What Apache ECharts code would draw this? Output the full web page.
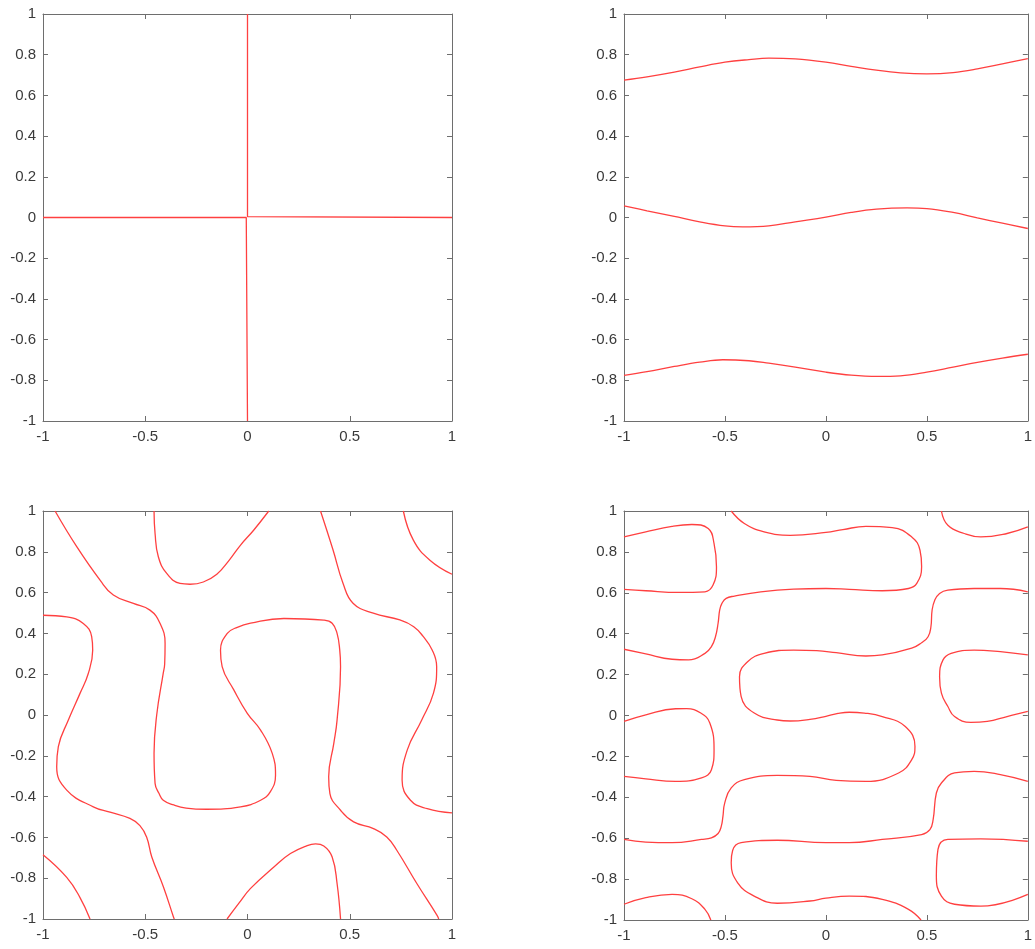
<!DOCTYPE html>
<html>
<head>
<meta charset="utf-8">
<script src="https://cdn.jsdelivr.net/npm/echarts@6/dist/echarts.min.js"></script>
<style>
  html, body { margin: 0; padding: 0; background: #fff; }
  #chart { width: 1035px; height: 949px; }
</style>
</head>
<body>
<div id="chart"></div>
<script>
// tick values shared by all four subplots
const xTicks = [-1, -0.5, 0, 0.5, 1];
const yTicks = [-1, -0.8, -0.6, -0.4, -0.2, 0, 0.2, 0.4, 0.6, 0.8, 1];

// subplot 1 (top left): the two axes lines, with the small kink at the origin
const p1UpperRight = [[0, 1], [0, 0.004], [0.006, 0], [1, 0]];
const p1LowerLeft = [[-1, 0], [-0.006, 0], [0, -0.004], [0, -1]];

// subplot 2 (top right): three wavy lines
const p2Top = [[-1, 0.675], [-0.886, 0.691], [-0.751, 0.714], [-0.625, 0.74], [-0.5, 0.763], [-0.381, 0.776],
  [-0.283, 0.783], [-0.152, 0.779], [0, 0.763], [0.125, 0.743], [0.25, 0.724], [0.369, 0.711], [0.5, 0.706],
  [0.63, 0.712], [0.75, 0.73], [0.874, 0.755], [1, 0.781]];
const p2Mid = [[-1, 0.057], [-0.886, 0.033], [-0.751, 0.005], [-0.625, -0.021], [-0.5, -0.041], [-0.413, -0.046],
  [-0.283, -0.041], [-0.152, -0.021], [0, 0.002], [0.125, 0.025], [0.25, 0.041], [0.402, 0.047], [0.5, 0.044],
  [0.63, 0.025], [0.75, -0.002], [0.874, -0.028], [1, -0.054]];
const p2Bot = [[-1, -0.776], [-0.886, -0.757], [-0.751, -0.732], [-0.625, -0.711], [-0.511, -0.699], [-0.381, -0.704],
  [-0.283, -0.716], [-0.152, -0.735], [0, -0.76], [0.125, -0.775], [0.255, -0.781], [0.369, -0.778], [0.5, -0.76],
  [0.63, -0.735], [0.75, -0.712], [0.874, -0.691], [1, -0.672]];

// subplot 3 (bottom left)
const p3Long = [[-0.941, 1], [-0.835, 0.825], [-0.721, 0.661], [-0.656, 0.588], [-0.558, 0.547], [-0.477, 0.514],
  [-0.428, 0.45], [-0.403, 0.352], [-0.405, 0.25], [-0.412, 0.205], [-0.444, 0.0], [-0.457, -0.188], [-0.452, -0.335],
  [-0.433, -0.384], [-0.412, -0.418], [-0.36, -0.441], [-0.3, -0.456], [-0.2, -0.462], [-0.034, -0.45], [0.064, -0.418],
  [0.112, -0.376], [0.137, -0.295], [0.121, -0.188], [0.064, -0.074], [-0.001, 0.008], [-0.067, 0.123],
  [-0.124, 0.237], [-0.132, 0.317], [-0.099, 0.4], [-0.05, 0.43], [0.015, 0.45], [0.178, 0.473], [0.373, 0.465],
  [0.414, 0.45], [0.438, 0.4], [0.451, 0.319], [0.455, 0.237], [0.438, -0.025], [0.422, -0.139], [0.397, -0.303],
  [0.403, -0.385], [0.455, -0.467], [0.519, -0.524], [0.616, -0.557], [0.681, -0.598], [0.73, -0.663],
  [0.828, -0.826], [0.927, -0.982], [0.935, -1]];
const p3TopCup = [[-0.457, 1], [-0.452, 0.89], [-0.436, 0.776], [-0.395, 0.694], [-0.33, 0.645], [-0.281, 0.641],
  [-0.216, 0.652], [-0.15, 0.69], [-0.09, 0.758], [-0.034, 0.833], [0.031, 0.907], [0.104, 1]];
const p3Left = [[-1, 0.489], [-0.884, 0.481], [-0.803, 0.449], [-0.762, 0.384], [-0.757, 0.317], [-0.779, 0.202],
  [-0.819, 0.106], [-0.876, -0.025], [-0.925, -0.155], [-0.933, -0.254], [-0.884, -0.368], [-0.754, -0.45],
  [-0.672, -0.476], [-0.575, -0.507], [-0.526, -0.542], [-0.493, -0.599], [-0.468, -0.696], [-0.411, -0.843],
  [-0.362, -0.99], [-0.358, -1]];
const p3Right = [[0.357, 1], [0.418, 0.81], [0.467, 0.646], [0.516, 0.548], [0.615, 0.499], [0.745, 0.466],
  [0.813, 0.433], [0.859, 0.385], [0.903, 0.319], [0.925, 0.237], [0.909, 0.106], [0.852, -0.025], [0.781, -0.172],
  [0.756, -0.319], [0.797, -0.418], [0.879, -0.459], [1, -0.48]];
const p3TopRight = [[0.762, 1], [0.811, 0.857], [0.892, 0.759], [1, 0.69]];
const p3BottomLeft = [[-1, -0.685], [-0.884, -0.796], [-0.819, -0.895], [-0.77, -1]];
const p3BottomCup = [[-0.1, -1], [-0.04, -0.92], [0.015, -0.85], [0.129, -0.745], [0.21, -0.679], [0.292, -0.64],
  [0.333, -0.632], [0.373, -0.642], [0.414, -0.696], [0.438, -0.826], [0.455, -1]];

// subplot 4 (bottom right)
const p4TopLeftLoop = [[-1, 0.873], [-0.892, 0.898], [-0.762, 0.925], [-0.664, 0.934], [-0.583, 0.914], [-0.554, 0.841],
  [-0.542, 0.727], [-0.559, 0.638], [-0.599, 0.605], [-0.729, 0.602], [-0.892, 0.61], [-1, 0.617]];
const p4Upper = [[-1, 0.324], [-0.892, 0.301], [-0.762, 0.275], [-0.68, 0.272], [-0.599, 0.304], [-0.567, 0.337],
  [-0.547, 0.385], [-0.534, 0.451], [-0.526, 0.516], [-0.515, 0.548], [-0.494, 0.573], [-0.453, 0.584],
  [-0.323, 0.605], [-0.16, 0.618], [0, 0.621], [0.116, 0.617], [0.279, 0.61], [0.409, 0.621], [0.45, 0.646],
  [0.474, 0.727], [0.466, 0.808], [0.425, 0.873], [0.328, 0.919], [0.198, 0.925], [0.084, 0.909], [0, 0.895],
  [-0.177, 0.881], [-0.306, 0.898], [-0.404, 0.939], [-0.469, 1]];
const p4TopRight = [[0.572, 1], [0.604, 0.93], [0.685, 0.89], [0.767, 0.873], [0.897, 0.89], [1, 0.922]];
const p4Middle = [[1, 0.605], [0.864, 0.621], [0.734, 0.621], [0.604, 0.613], [0.563, 0.597], [0.539, 0.564],
  [0.526, 0.516], [0.52, 0.434], [0.506, 0.385], [0.474, 0.356], [0.425, 0.329], [0.279, 0.296], [0.198, 0.291],
  [0.051, 0.307], [-0.046, 0.317], [-0.16, 0.32], [-0.306, 0.304], [-0.388, 0.263], [-0.428, 0.19], [-0.42, 0.093],
  [-0.355, 0.012], [-0.241, -0.022], [-0.177, -0.027], [-0.079, -0.019], [0.0, -0.004], [0.06, 0.01], [0.116, 0.016],
  [0.19, 0.012], [0.279, -0.005], [0.393, -0.054], [0.441, -0.151], [0.425, -0.216], [0.36, -0.281], [0.198, -0.322],
  [0.051, -0.317], [-0.079, -0.298], [-0.241, -0.293], [-0.404, -0.314], [-0.469, -0.354], [-0.501, -0.427],
  [-0.51, -0.493], [-0.518, -0.541], [-0.534, -0.577], [-0.567, -0.598], [-0.616, -0.606], [-0.762, -0.622],
  [-0.892, -0.619], [-1, -0.606]];
const p4LeftLoop = [[-1, -0.029], [-0.892, 0.003], [-0.745, 0.033], [-0.69, 0.034], [-0.62, 0.012], [-0.575, -0.037],
  [-0.554, -0.167], [-0.567, -0.265], [-0.616, -0.305], [-0.745, -0.322], [-0.892, -0.31], [-1, -0.298]];
const p4RightLoop = [[1, 0.296], [0.864, 0.312], [0.734, 0.32], [0.62, 0.304], [0.58, 0.272], [0.563, 0.19],
  [0.572, 0.109], [0.604, 0.044], [0.637, -0.005], [0.718, -0.034], [0.799, -0.029], [0.897, -0.005], [1, 0.02]];
const p4Lower = [[1, -0.322], [0.864, -0.289], [0.734, -0.273], [0.637, -0.281], [0.572, -0.33], [0.547, -0.379],
  [0.531, -0.509], [0.515, -0.558], [0.474, -0.582], [0.279, -0.606], [0.116, -0.622], [0, -0.622], [-0.241, -0.61],
  [-0.42, -0.622], [-0.462, -0.66], [-0.469, -0.72], [-0.437, -0.818], [-0.355, -0.883], [-0.241, -0.918],
  [-0.079, -0.907], [0, -0.893], [0.116, -0.883], [0.279, -0.899], [0.409, -0.948], [0.471, -1]];
const p4BottomRightLoop = [[1, -0.615], [0.767, -0.603], [0.604, -0.606], [0.555, -0.655], [0.547, -0.785],
  [0.572, -0.883], [0.637, -0.923], [0.767, -0.932], [1, -0.875]];
const p4BottomLeft = [[-1, -0.923], [-0.892, -0.891], [-0.762, -0.875], [-0.664, -0.896], [-0.599, -0.948], [-0.57, -1]];

const panels = [
  { curves: [p1UpperRight, p1LowerLeft], smooth: false },
  { curves: [p2Top, p2Mid, p2Bot], smooth: 0.4 },
  { curves: [p3Long, p3TopCup, p3Left, p3Right, p3TopRight, p3BottomLeft, p3BottomCup], smooth: 0.45 },
  { curves: [p4TopLeftLoop, p4Upper, p4TopRight, p4Middle, p4LeftLoop, p4RightLoop, p4Lower, p4BottomRightLoop, p4BottomLeft], smooth: 0.45 }
];

const grids = [
  { left: 43, top: 14, width: 409, height: 407 },
  { left: 624, top: 14, width: 410, height: 407 },
  { left: 43, top: 511, width: 409, height: 408 },
  { left: 624, top: 511, width: 410, height: 409 }
];

const AXIS_COLOR = '#6e6e6e';
const LABEL_COLOR = '#3a3a3a';
const LINE_COLOR = '#ff4040';

function makeAxis(gridIndex, position, ticks, showLabel) {
  return {
    type: 'value',
    gridIndex: gridIndex,
    position: position,
    min: ticks[0],
    max: ticks[ticks.length - 1],
    interval: +(ticks[1] - ticks[0]).toFixed(6),
    axisLine: { show: true, onZero: false, lineStyle: { color: AXIS_COLOR, width: 1 } },
    axisTick: { show: true, inside: true, length: 5, lineStyle: { color: AXIS_COLOR, width: 1 } },
    axisLabel: {
      show: showLabel,
      color: LABEL_COLOR,
      fontSize: 15,
      fontFamily: 'Liberation Sans, Arial, sans-serif',
      margin: position === 'left' ? 7 : 8
    },
    splitLine: { show: false }
  };
}

const xAxis = [];
const yAxis = [];
const series = [];
grids.forEach(function (g, i) {
  xAxis.push(makeAxis(i, 'bottom', xTicks, true));
  xAxis.push(makeAxis(i, 'top', xTicks, false));
  yAxis.push(makeAxis(i, 'left', yTicks, true));
  yAxis.push(makeAxis(i, 'right', yTicks, false));
  panels[i].curves.forEach(function (curve) {
    series.push({
      type: 'line',
      xAxisIndex: 2 * i,
      yAxisIndex: 2 * i,
      data: curve,
      smooth: panels[i].smooth,
      showSymbol: false,
      silent: true,
      animation: false,
      lineStyle: { color: LINE_COLOR, width: 1.3 }
    });
  });
});

const chart = echarts.init(document.getElementById('chart'));
chart.setOption({
  backgroundColor: '#fff',
  animation: false,
  grid: grids,
  xAxis: xAxis,
  yAxis: yAxis,
  series: series
});
</script>
</body>
</html>
